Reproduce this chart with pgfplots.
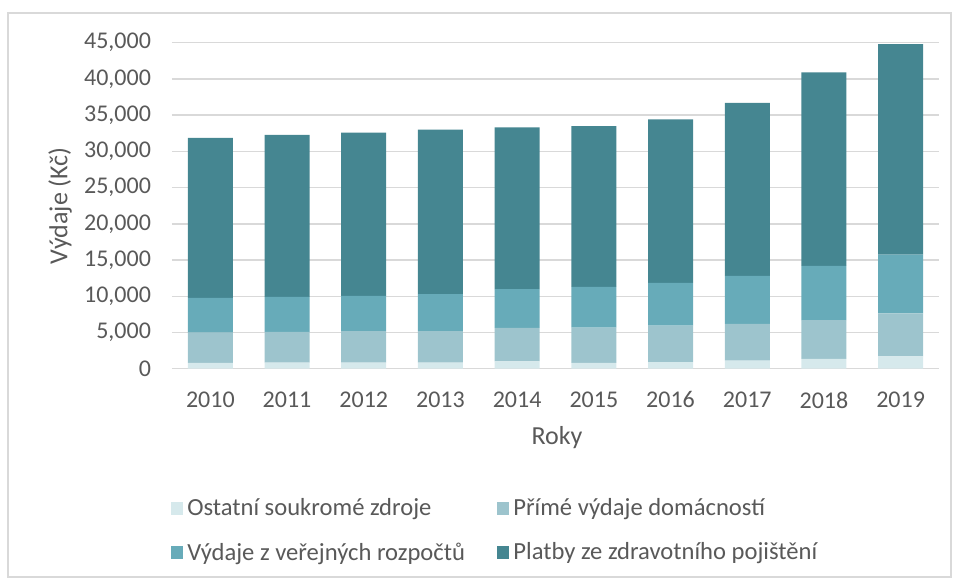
\documentclass[border=0pt]{standalone}
\usepackage{pgfplots}
\pgfplotsset{compat=1.18}
\usepackage{fontspec}
\setmainfont{Carlito}
\definecolor{cOst}{RGB}{214,233,236}
\definecolor{cPri}{RGB}{157,196,205}
\definecolor{cVer}{RGB}{103,171,185}
\definecolor{cPla}{RGB}{69,134,145}
\definecolor{txt}{RGB}{89,89,89}
\definecolor{grd}{RGB}{217,217,217}
\begin{document}
\begin{tikzpicture}
\path (0,0) rectangle (477.5pt,291.5pt);
\draw[grd, line width=0.6pt] (4pt,3pt) rectangle (475.5pt,285pt);
\begin{axis}[
  at={(86pt,107.15pt)}, anchor=south west,
  scale only axis, width=383.5pt, height=163pt,
  ybar stacked, bar width=22.5pt,
  xmin=-0.5, xmax=9.5, ymin=0, ymax=45000,
  ytick distance=5000,
  xtick={0,...,9},
  xticklabels={2010,2011,2012,2013,2014,2015,2016,2017,2018,2019},
  major tick length=0pt,
  axis line style={draw=none},
  ymajorgrids, grid style={grd, line width=0.75pt},
  scaled y ticks=false,
  /pgf/number format/.cd, 1000 sep={,}, assume math mode=true,
  /pgfplots/.cd,
  ticklabel style={font=\fontsize{12}{14}\selectfont, text=txt},
  yticklabel style={xshift=-7pt},
  xticklabel style={yshift=-8pt},
  xlabel={Roky}, ylabel={Výdaje (Kč)},
  label style={font=\fontsize{13}{15}\selectfont, text=txt},
  xlabel style={at={(axis description cs:0.502,-0.2126)}, anchor=center},
  ylabel style={at={(axis description cs:-0.146,0.5)}, anchor=center, rotate=0},
  legend columns=2,
  legend cell align=left,
  legend style={at={(axis description cs:-0.002,-0.385)}, anchor=north west, draw=none,
    font=\fontsize{12.3}{14}\selectfont, text=txt, inner sep=0pt,
    /tikz/every even column/.append style={column sep=14pt},
    row sep=8pt},
  legend image code/.code={\fill[#1] (0pt,-3.2pt) rectangle (6.2pt,3.2pt);},
]
\addplot[fill=cOst, draw=none] coordinates {(0,790) (1,830) (2,830) (3,830) (4,1020) (5,790) (6,920) (7,1100) (8,1340) (9,1710)};
\addplot[fill=cPri, draw=none] coordinates {(0,4180) (1,4240) (2,4370) (3,4370) (4,4600) (5,4870) (6,5020) (7,5070) (8,5380) (9,5940)};
\addplot[fill=cVer, draw=none] coordinates {(0,4790) (1,4830) (2,4840) (3,5100) (4,5380) (5,5620) (6,5890) (7,6630) (8,7460) (9,8090)};
\addplot[fill=cPla, draw=none] coordinates {(0,22090) (1,22360) (2,22560) (3,22700) (4,22300) (5,22220) (6,22570) (7,23900) (8,26720) (9,29060)};
\legend{Ostatní soukromé zdroje, Přímé výdaje domácností, Výdaje z veřejných rozpočtů, Platby ze zdravotního pojištění}
\end{axis}
\end{tikzpicture}
\end{document}
